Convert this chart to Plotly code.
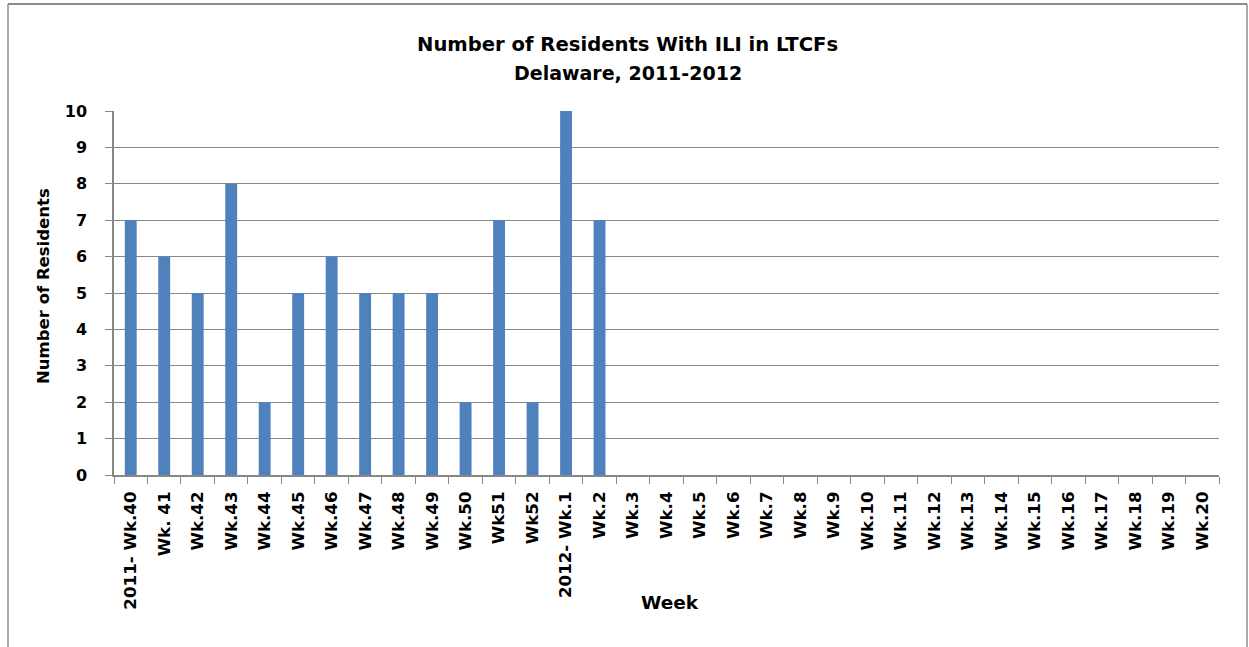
import plotly.graph_objects as go

weeks = ["2011- Wk.40", "Wk. 41", "Wk.42", "Wk.43", "Wk.44", "Wk.45", "Wk.46", "Wk.47",
         "Wk.48", "Wk.49", "Wk.50", "Wk51", "Wk52", "2012- Wk.1", "Wk.2", "Wk.3", "Wk.4",
         "Wk.5", "Wk.6", "Wk.7", "Wk.8", "Wk.9", "Wk.10", "Wk.11", "Wk.12", "Wk.13",
         "Wk.14", "Wk.15", "Wk.16", "Wk.17", "Wk.18", "Wk.19", "Wk.20"]
residents = [7, 6, 5, 8, 2, 5, 6, 5, 5, 5, 2, 7, 2, 10, 7] + [None] * 18
y_ticks = list(range(0, 11))

title_line1 = "Number of Residents With ILI in LTCFs"
title_line2 = "Delaware, 2011-2012"
x_title = "Week"
y_title = "Number of Residents"

W, H = 1249, 647
L, R, T, B = 114, 1219, 111, 475          # plot area, pixel coords
FONT = "DejaVu Sans"

def px_x(p):
    return (p - L) / (R - L)

def px_y(p):
    return (B - p) / (B - T)

fig = go.Figure()
fig.add_trace(go.Bar(x=weeks, y=residents, marker=dict(color="#4F81BD", line=dict(width=0)),
                     showlegend=False))

grid = "#878787"
fig.update_layout(
    width=W, height=H,
    margin=dict(l=L, r=W - R, t=T, b=H - B, pad=0),
    paper_bgcolor="white", plot_bgcolor="white",
    bargap=0.645,
    font=dict(family=FONT, color="black"),
    xaxis=dict(
        type="category", tickangle=-90, tickson="boundaries",
        ticks="outside", ticklen=7, tickcolor=grid, tickwidth=1, ticklabelstandoff=8,
        showline=True, linecolor=grid, linewidth=1.5,
        showgrid=False,
        tickfont=dict(family=FONT, size=16.7, color="black", weight="bold"),
        range=[-0.5, len(weeks) - 0.5],
    ),
    yaxis=dict(
        range=[0, 10], tickvals=y_ticks, ticks="outside", ticklen=7,
        tickcolor=grid, tickwidth=1, ticklabelstandoff=15,
        showline=True, linecolor=grid, linewidth=1.5,
        showgrid=True, gridcolor=grid, gridwidth=1, zeroline=False,
        tickfont=dict(family=FONT, size=16, color="black", weight="bold"),
    ),
)

# outer chart border (Excel chart area)
border = "#8c8c8c"
fig.add_shape(type="line", xref="paper", yref="paper", x0=px_x(8), x1=px_x(1247),
              y0=px_y(4), y1=px_y(4), line=dict(color=border, width=2))
fig.add_shape(type="line", xref="paper", yref="paper", x0=px_x(8), x1=px_x(8),
              y0=px_y(4), y1=px_y(660), line=dict(color=border, width=1.5))
fig.add_shape(type="line", xref="paper", yref="paper", x0=px_x(1247), x1=px_x(1247),
              y0=px_y(4), y1=px_y(660), line=dict(color=border, width=1.5))

cx = px_x(627.5)
fig.add_annotation(text="<b>" + title_line1 + "</b>", xref="paper", yref="paper",
                   x=cx, y=px_y(45), xanchor="center", yanchor="middle", showarrow=False,
                   font=dict(family=FONT, size=19.6, color="black"))
fig.add_annotation(text="<b>" + title_line2 + "</b>", xref="paper", yref="paper",
                   x=cx, y=px_y(73), xanchor="center", yanchor="middle", showarrow=False,
                   font=dict(family=FONT, size=19, color="black"))
fig.add_annotation(text="<b>" + x_title + "</b>", xref="paper", yref="paper",
                   x=px_x(670), y=px_y(602), xanchor="center", yanchor="middle", showarrow=False,
                   font=dict(family=FONT, size=18.5, color="black"))
fig.add_annotation(text="<b>" + y_title + "</b>", xref="paper", yref="paper", textangle=-90,
                   x=px_x(43), y=px_y(286), xanchor="center", yanchor="middle", showarrow=False,
                   font=dict(family=FONT, size=16.5, color="black"))

fig.write_html("out.html", config={"displayModeBar": False},
               post_script="document.body.style.margin='0px';")
